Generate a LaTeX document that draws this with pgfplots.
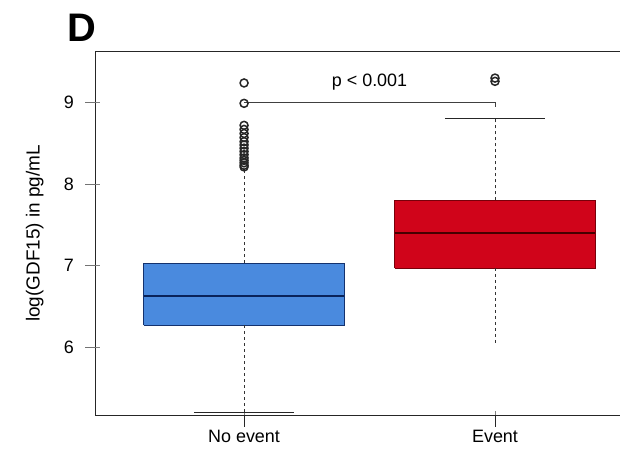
\documentclass[border=0pt]{standalone}
\usepackage{fontspec}
\setmainfont{Liberation Sans}
\usepackage{pgfplots}
\pgfplotsset{compat=1.18}
\definecolor{boxblue}{RGB}{74,138,222}
\definecolor{boxblueedge}{RGB}{20,50,110}
\definecolor{bluemed}{RGB}{10,35,90}
\definecolor{boxred}{RGB}{208,4,26}
\definecolor{boxrededge}{RGB}{120,0,10}
\definecolor{redmed}{RGB}{70,0,0}
\begin{document}
\begin{tikzpicture}
\begin{axis}[
  at={(0,0)}, anchor=south west,
  scale only axis, width=527bp, height=363bp,
  xmin=0.41, xmax=2.51, ymin=5.166, ymax=9.62,
  axis line style={line width=1bp, black!85},
  xtick={1,2}, xticklabels={No event, Event},
  ytick={6,7,8,9}, yticklabels={},
  xtick pos=bottom, ytick pos=left,
  tick label style={font=\fontsize{18}{18}\selectfont},
  x tick label style={anchor=north, yshift=-12bp},
  ylabel={log(GDF15) in pg/mL},
  ylabel style={at={(axis description cs:-0.1164,0.5)}, anchor=center, font=\fontsize{19}{19}\selectfont},
  clip=false,
]
% No event
\addplot[fill=boxblue, draw=boxblueedge, line width=0.8bp] coordinates {(0.6,6.27)(1.4,6.27)(1.4,7.03)(0.6,7.03)(0.6,6.27)};
\addplot[color=bluemed, line width=2.2bp] coordinates {(0.6,6.63)(1.4,6.63)};
\addplot[black!80, line width=0.7bp, dash pattern=on 3bp off 3bp] coordinates {(1,7.03)(1,8.2)};
\addplot[black!80, line width=0.7bp, dash pattern=on 3bp off 3bp] coordinates {(1,6.27)(1,5.2)};
\addplot[black!85, line width=1bp] coordinates {(0.8,5.2)(1.2,5.2)};
\addplot[only marks, mark=o, mark size=4bp, mark options={draw=black!85, fill=gray!55, line width=1.5bp}] coordinates {
(1,9.24)(1,8.99)(1,8.72)(1,8.67)(1,8.62)(1,8.57)(1,8.52)(1,8.48)(1,8.44)(1,8.40)(1,8.36)(1,8.32)(1,8.29)(1,8.26)(1,8.23)(1,8.21)};
% Event
\addplot[fill=boxred, draw=boxrededge, line width=0.8bp] coordinates {(1.6,6.97)(2.4,6.97)(2.4,7.80)(1.6,7.80)(1.6,6.97)};
\addplot[color=redmed, line width=2.2bp] coordinates {(1.6,7.40)(2.4,7.40)};
\addplot[black!80, line width=0.7bp, dash pattern=on 3bp off 3bp] coordinates {(2,7.80)(2,8.8)};
\addplot[black!80, line width=0.7bp, dash pattern=on 3bp off 3bp] coordinates {(2,6.97)(2,6.02)};
\addplot[black!85, line width=1bp] coordinates {(1.8,8.8)(2.2,8.8)};
\addplot[only marks, mark=o, mark size=4bp, mark options={draw=black!85, fill=gray!55, line width=1.5bp}] coordinates {(2,9.30)(2,9.26)};
% p-value bracket
\addplot[black!75, line width=1bp] coordinates {(1,9.0)(2,9.0)(2,8.94)};
\node[font=\fontsize{18}{18}\selectfont] at (axis cs:1.5,9.25) {p < 0.001};
% axis ticks and y tick labels
\pgfplotsinvokeforeach{6,7,8,9}{
  \draw[black!55, line width=0.8bp] (axis cs:0.41,#1) -- ++(-11bp,0pt);
  \node[anchor=east, inner sep=0pt, xshift=-22bp, font=\fontsize{18}{18}\selectfont] at (axis cs:0.41,#1) {#1};
}
\pgfplotsinvokeforeach{1,2}{
  \draw[black!85, line width=1bp] (axis cs:#1,5.166) -- ++(0pt,-12bp);
}
\end{axis}
\node[anchor=base west, inner sep=0pt, font=\fontsize{40}{40}\selectfont\bfseries] at (-29bp,373bp) {D};
\pgfresetboundingbox
\path[use as bounding box] (-96bp,-48bp) rectangle (524bp,415bp);
\end{tikzpicture}
\end{document}
